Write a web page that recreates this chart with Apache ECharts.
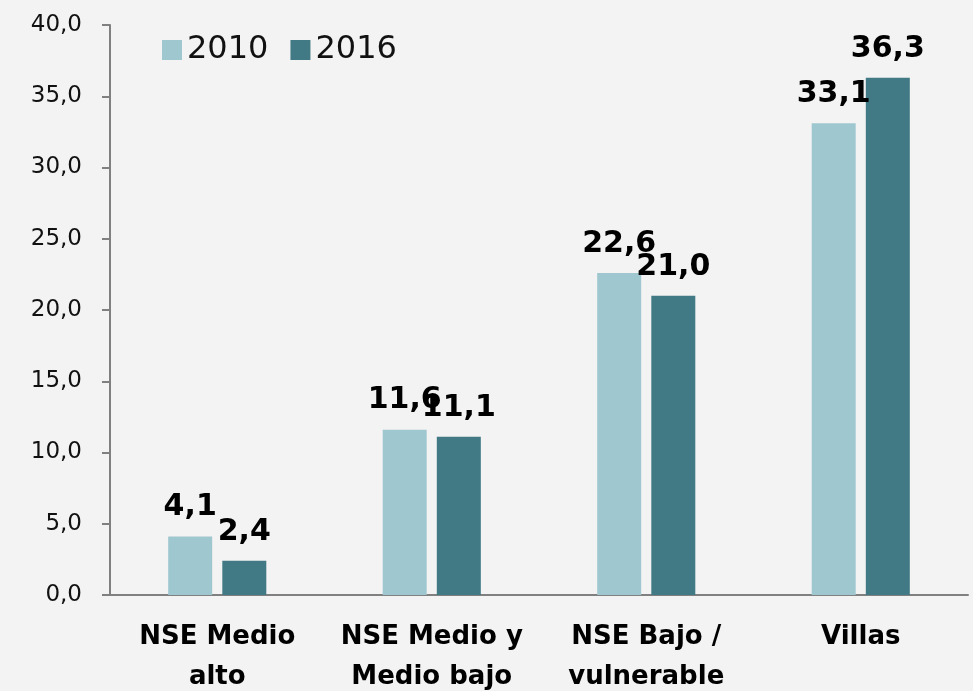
<!DOCTYPE html>
<html>
<head>
<meta charset="utf-8">
<script src="https://cdn.jsdelivr.net/npm/echarts@6/dist/echarts.min.js"></script>
<style>
body{margin:0;background:#f3f3f3;}
#chart{width:973px;height:691px;}
</style>
</head>
<body>
<div id="chart"></div>
<script>
var categories=['NSE Medio\nalto','NSE Medio y\nMedio bajo','NSE Bajo /\nvulnerable','Villas'];
var years=['2010','2016'];
var values2010=[4.1,11.6,22.6,33.1];
var values2016=[2.4,11.1,21.0,36.3];
var colors=['#9fc7cf','#417a84'];

function fmt(v){
	return Number(v).toFixed(1).replace('.',',');
}

var myChart=echarts.init(document.getElementById('chart'));
var font='"DejaVu Sans", sans-serif';
var valLabel={show:true,position:'top',distance:14,fontSize:30,fontWeight:'bold',color:'#000',fontFamily:font,formatter:function(p){return fmt(p.value);}};
var option={
	backgroundColor:'#f3f3f3',
	color:colors,
	textStyle:{fontFamily:font},
	legend:{
		left:157,
		top:29,
		itemWidth:20,
		itemHeight:20,
		itemGap:22,
		icon:'rect',
		textStyle:{fontSize:32,color:'#111',fontFamily:font},
		data:years
	},
	grid:{left:110,right:5,top:25,bottom:96,containLabel:false,outerBoundsMode:'none'},
	xAxis:{
		type:'category',
		data:categories,
		axisLine:{lineStyle:{color:'#808080',width:2}},
		axisTick:{length:8,lineStyle:{color:'#808080',width:2}},
		axisLabel:{interval:0,hideOverlap:false,fontSize:26,fontWeight:'bold',color:'#000',margin:22,lineHeight:40,fontFamily:font}
	},
	yAxis:{
		type:'value',
		min:0,
		max:40,
		interval:5,
		splitLine:{show:false},
		axisLine:{show:true,lineStyle:{color:'#808080',width:2}},
		axisTick:{show:true,length:8,lineStyle:{color:'#808080',width:2}},
		axisLabel:{fontSize:23,color:'#111',margin:28,fontFamily:font,formatter:function(v){return fmt(v);}}
	},
	series:[
		{
			name:years[0],
			type:'bar',
			barWidth:44,
			barGap:'23%',
			data:values2010,
			label:valLabel
		},
		{
			name:years[1],
			type:'bar',
			barWidth:44,
			data:values2016,
			label:valLabel
		}
	]
};
myChart.setOption(option);
</script>
</body>
</html>
